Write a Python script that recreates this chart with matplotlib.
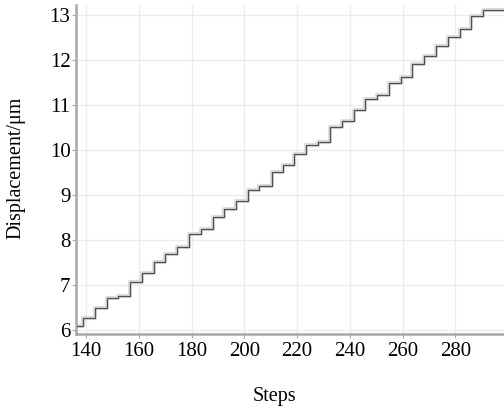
import matplotlib
matplotlib.use("Agg")
import matplotlib.pyplot as plt

# Step positions where the displacement jumps, and the level reached there
jump_steps = [136.5, 138.6, 143.3, 147.7, 152.2, 156.6, 161.0, 165.6, 169.9, 174.4,
              178.9, 183.6, 188.0, 192.1, 196.9, 201.3, 205.7, 210.4, 214.8, 218.7,
              223.4, 227.8, 232.3, 236.9, 241.4, 245.6, 250.2, 254.8, 259.3, 263.7,
              268.1, 272.8, 277.2, 281.7, 286.1, 290.5, 298.5]
displacement = [6.09, 6.27, 6.48, 6.70, 6.76, 7.07, 7.26, 7.52, 7.68, 7.85,
                8.13, 8.24, 8.50, 8.69, 8.87, 9.11, 9.20, 9.50, 9.66, 9.91,
                10.11, 10.18, 10.52, 10.64, 10.89, 11.13, 11.21, 11.48, 11.63, 11.91,
                12.09, 12.30, 12.52, 12.68, 12.98, 13.11, 13.10]
x_ticks = [140, 160, 180, 200, 220, 240, 260, 280]
y_ticks = [6, 7, 8, 9, 10, 11, 12, 13]

plt.rcParams['font.family'] = ['Liberation Serif', 'DejaVu Serif']

fig = plt.figure(figsize=(5.04, 4.12), dpi=100)
ax = fig.add_axes([76/504, 1 - 334/412, 1 - 76/504, (334 - 5)/412])

ax.plot(jump_steps, displacement, drawstyle='steps-post', color='#dcdcdc', lw=3.0, zorder=2)
ax.plot(jump_steps, displacement, drawstyle='steps-post', color='#505050', lw=0.9, zorder=3)

ax.set_xlim(136.1, 298.5)
ax.set_ylim(5.91, 13.22)
ax.set_xticks(x_ticks)
ax.set_yticks(y_ticks)
ax.grid(True, color='#ebebeb', lw=1.0)
ax.set_axisbelow(True)

for s in ['top', 'right']:
    ax.spines[s].set_visible(False)
for s in ['left', 'bottom']:
    ax.spines[s].set_color('#a8a8a8')
    ax.spines[s].set_linewidth(1.8)

ax.tick_params(axis='both', labelsize=15, colors='#a8a8a8', labelcolor='black', length=3)
ax.tick_params(axis='x', pad=3)
ax.tick_params(axis='y', pad=1)

fig.text(16/504, 1 - 168/412, 'Displacement/μm', rotation=90, ha='center', va='center', fontsize=14.5)
fig.text(274/504, 1 - 396/412, 'Steps', ha='center', va='center', fontsize=14.5)

fig.savefig('out.png', dpi=100)
